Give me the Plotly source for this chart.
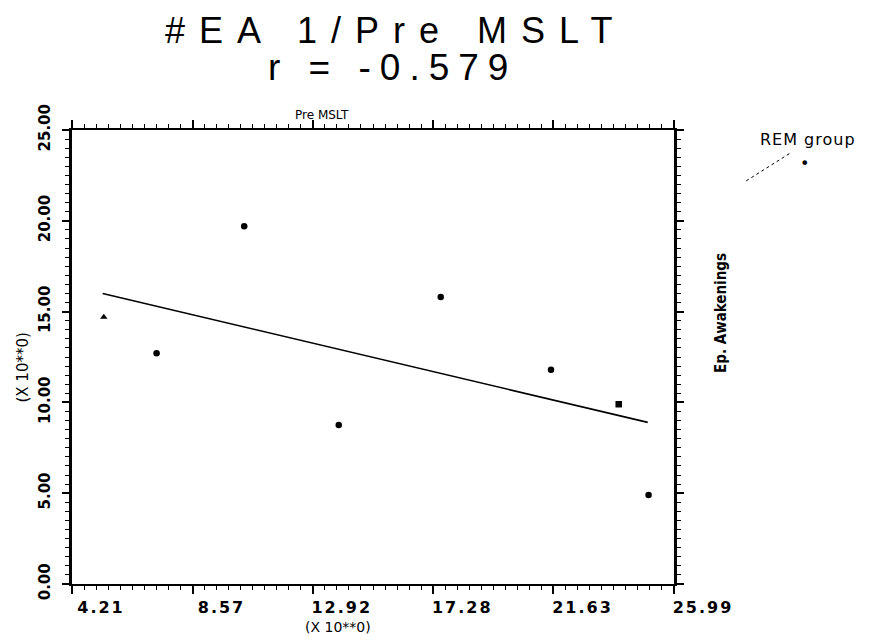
import plotly.graph_objects as go

# ---- data ----
x_vals = [5.36, 7.27, 10.44, 13.86, 17.55, 21.54, 23.99, 25.07]
y_vals = [14.7, 12.7, 19.7, 8.75, 15.8, 11.8, 9.9, 4.9]
point_symbols = ["triangle-up", "circle", "circle", "circle", "circle", "circle", "square", "circle"]
fit_x = [5.32, 25.04]
fit_y = [16.0, 8.9]
x_ticks = [4.21, 8.57, 12.92, 17.28, 21.63, 25.99]
x_tick_labels = ["4.21", "8.57", "12.92", "17.28", "21.63", "25.99"]
y_ticks = [0, 5, 10, 15, 20, 25]
y_tick_labels = ["0.00", "5.00", "10.00", "15.00", "20.00", "25.00"]
title_line1 = "#EA 1/Pre MSLT"
title_line2 = "r = -0.579"
top_label = "Pre MSLT"
right_label = "Ep. Awakenings"
scale_label = "(X 10**0)"
legend_label = "REM group"

BLACK = "#000000"
ls = lambda t, px: f"<span style='letter-spacing:{px}px'>{t}</span>"

fig = go.Figure()
fig.add_trace(go.Scatter(x=fit_x, y=fit_y, mode="lines",
                         line=dict(color=BLACK, width=1.6), hoverinfo="skip"))
fig.add_trace(go.Scatter(x=x_vals, y=y_vals, mode="markers",
                         marker=dict(color=BLACK, size=6.5, symbol=point_symbols)))

fig.update_layout(
    width=895, height=644,
    margin=dict(l=64, r=229, t=122, b=68),
    paper_bgcolor="white", plot_bgcolor="white",
    showlegend=False,
    font=dict(family="DejaVu Sans", color=BLACK),
)
fig.update_xaxes(
    range=[4.21, 25.99], showgrid=False, zeroline=False,
    showline=True, linecolor=BLACK, linewidth=2, mirror="ticks",
    ticks="outside", ticklen=8, tickwidth=1.5, tickcolor=BLACK,
    tickvals=x_ticks, ticktext=[ls(t, 2) for t in x_tick_labels],
    tickfont=dict(family="DejaVu Sans", size=16, color=BLACK, weight="bold"),
    ticklabelshift=29, ticklabelstandoff=0,
    minor=dict(ticks="outside", ticklen=4, tickwidth=1, tickcolor=BLACK,
               tick0=4.21, dtick=0.4356),
)
fig.update_yaxes(
    range=[0, 25], showgrid=False, zeroline=False,
    showline=True, linecolor=BLACK, linewidth=2.5, mirror="ticks",
    ticks="outside", ticklen=7, tickwidth=1.5, tickcolor=BLACK,
    tickvals=y_ticks, ticktext=y_tick_labels, tickangle=-90,
    tickfont=dict(family="DejaVu Sans", size=15, color=BLACK, weight="bold"),
    ticklabelstandoff=6,
    minor=dict(ticks="outside", ticklen=4, tickwidth=1, tickcolor=BLACK,
               tick0=0, dtick=0.5),
)

ann = [
    dict(text=ls(title_line1, 14), x=0.537, y=1.219, font=dict(family="Liberation Sans", size=36)),
    dict(text=ls(title_line2, 9), x=0.532, y=1.137, font=dict(family="Liberation Sans", size=37)),
    dict(text=top_label, x=0.415, y=1.034, font=dict(family="DejaVu Sans", size=12)),
    dict(text=scale_label, x=0.4415, y=-0.094, font=dict(family="DejaVu Sans", size=14)),
    dict(text=scale_label, x=-0.082, y=0.476, textangle=-90, font=dict(family="DejaVu Sans", size=15)),
    dict(text=right_label, x=1.079, y=0.596, textangle=-90,
         font=dict(family="DejaVu Sans Condensed", size=15, weight="bold")),
    dict(text=ls(legend_label, 1), x=1.140, y=0.978, xanchor="left", font=dict(family="DejaVu Sans", size=16)),
    dict(text="•", x=1.216, y=0.927, font=dict(family="DejaVu Sans", size=16)),
]
for a in ann:
    a.setdefault("xanchor", "center")
    fig.add_annotation(xref="paper", yref="paper", yanchor="middle", showarrow=False,
                       font_color=BLACK, **a)

fig.add_shape(type="line", xref="paper", yref="paper", x0=1.120, y0=0.888, x1=1.194, y1=0.950,
              line=dict(color=BLACK, width=1, dash="dot"))

fig.write_html("out.html")
